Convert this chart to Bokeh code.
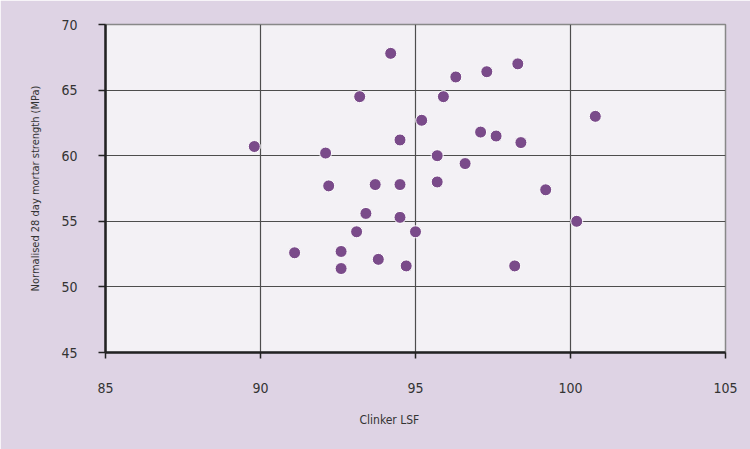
from bokeh.plotting import figure
from bokeh.models import Range1d, FixedTicker, Title
from bokeh.embed import file_html
from bokeh.resources import INLINE

# Data
clinker_lsf = [94.2, 93.2, 95.9, 95.2, 94.5, 89.8, 92.1, 95.7,
               92.2, 93.7, 94.5, 95.7, 93.4, 94.5, 93.1, 95.0,
               91.1, 92.6, 93.8, 92.6, 94.7,
               96.3, 97.3, 98.3, 100.8, 97.1, 97.6, 98.4, 96.6,
               99.2, 100.2, 98.2]
strength = [67.8, 64.5, 64.5, 62.7, 61.2, 60.7, 60.2, 60.0,
            57.7, 57.8, 57.8, 58.0, 55.6, 55.3, 54.2, 54.2,
            52.6, 52.7, 52.1, 51.4, 51.6,
            66.0, 66.4, 67.0, 63.0, 61.8, 61.5, 61.0, 59.4,
            57.4, 55.0, 51.6]
x_ticks = [85, 90, 95, 100, 105]
y_ticks = [45, 50, 55, 60, 65, 70]
x_label = "Clinker LSF"
y_label = "Normalised 28 day mortar strength (MPa)"

FONT = "'DejaVu Sans Condensed', 'Roboto', sans-serif"
BG = "#ded3e4"

p = figure(width=750, height=449, output_backend="svg", toolbar_location=None,
           x_range=Range1d(85, 105), y_range=Range1d(45, 70),
           min_border_left=105, min_border_right=25, min_border_top=24,
           min_border_bottom=97)
p.frame_width = 620
p.frame_height = 328

p.background_fill_color = "#f3f1f5"
p.border_fill_color = BG
p.outline_line_color = "#888888"
p.outline_line_width = 1.5

p.scatter(clinker_lsf, strength, size=12, fill_color="#7a4b8a",
          line_color="#ffffff", line_width=1)

for ax in (p.xaxis[0], p.yaxis[0]):
    ax.axis_line_color = "#222222"
    ax.axis_line_width = 2.5
    ax.major_tick_line_color = "#222222"
    ax.major_tick_line_width = 1.5
    ax.major_tick_in = 0
    ax.minor_tick_line_color = None
    ax.major_label_text_font = FONT
    ax.major_label_text_font_size = "14px"
    ax.major_label_text_color = "#333333"
    ax.axis_label_text_font = FONT
    ax.axis_label_text_font_size = "11px"
    ax.axis_label_text_font_style = "normal"
    ax.axis_label_text_color = "#333333"

p.xaxis[0].ticker = FixedTicker(ticks=x_ticks)
p.yaxis[0].ticker = FixedTicker(ticks=y_ticks)
p.xaxis[0].major_tick_out = 6
p.yaxis[0].major_tick_out = 7
p.xaxis[0].major_label_standoff = 24
p.yaxis[0].major_label_standoff = 21
p.yaxis[0].axis_label = y_label
p.yaxis[0].axis_label_standoff = 16

xt = Title(text=x_label, align="left", offset=254, standoff=30,
           text_font=FONT, text_font_size="12px", text_font_style="normal",
           text_color="#333333")
p.add_layout(xt, "below")

p.xgrid.ticker = FixedTicker(ticks=x_ticks)
p.ygrid.ticker = FixedTicker(ticks=y_ticks)
p.grid.grid_line_color = "#4d4d4d"
p.grid.grid_line_width = 1.2

open("out.html", "w").write(file_html(p, INLINE))
